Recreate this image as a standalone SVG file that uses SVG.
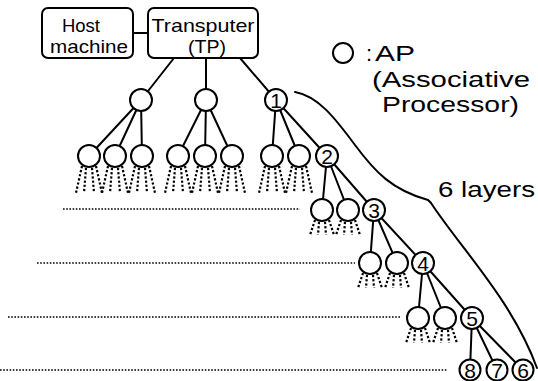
<svg xmlns="http://www.w3.org/2000/svg" xmlns:xlink="http://www.w3.org/1999/xlink" width="538" height="381" viewBox="0 0 538 381">
<style>
.ln{stroke:#000;stroke-width:2;fill:none;stroke-linecap:round}
.dot{stroke:#000;stroke-width:2.2;fill:none;stroke-dasharray:2.2 2}
.hd{stroke:#000;stroke-width:1.6;fill:none;stroke-dasharray:1.6 1.6}
.box{fill:#fff;stroke:#000;stroke-width:2}
.ap{fill:#fff;stroke:#000;stroke-width:2}
text{font-family:"Liberation Sans",Arial,Helvetica,sans-serif;fill:#000}
.bt{font-size:19px;text-anchor:middle}
.dg{font-size:21px;text-anchor:middle}
.lg{font-size:22px}
</style>
<defs>
<g id="legL">
<line class="dot" x1="-7" y1="10" x2="-13" y2="37"/>
<line class="dot" x1="-3" y1="12" x2="-5" y2="37"/>
<line class="dot" x1="3" y1="12" x2="5" y2="37"/>
<line class="dot" x1="7" y1="10" x2="13" y2="37"/>
</g>
<g id="legS">
<line class="dot" x1="-7" y1="10" x2="-12" y2="25"/>
<line class="dot" x1="-3" y1="12" x2="-4" y2="25"/>
<line class="dot" x1="3" y1="12" x2="4" y2="25"/>
<line class="dot" x1="7" y1="10" x2="12" y2="25"/>
</g>
</defs>

<g id="connectors">
<line class="ln" x1="133" y1="33" x2="148" y2="33"/>
<line class="ln" x1="174" y1="58" x2="141" y2="100"/>
<line class="ln" x1="206" y1="58" x2="206" y2="100"/>
<line class="ln" x1="240" y1="58" x2="276" y2="100"/>
<line class="ln" x1="141" y1="100" x2="89" y2="156"/>
<line class="ln" x1="141" y1="100" x2="115" y2="156"/>
<line class="ln" x1="141" y1="100" x2="142" y2="156"/>
<line class="ln" x1="206" y1="100" x2="178" y2="156"/>
<line class="ln" x1="206" y1="100" x2="205" y2="156"/>
<line class="ln" x1="206" y1="100" x2="232" y2="156"/>
<line class="ln" x1="276" y1="100" x2="272" y2="156"/>
<line class="ln" x1="276" y1="100" x2="299" y2="156"/>
<line class="ln" x1="276" y1="100" x2="327" y2="156"/>
<line class="ln" x1="327" y1="156" x2="322" y2="210"/>
<line class="ln" x1="327" y1="156" x2="348" y2="210"/>
<line class="ln" x1="327" y1="156" x2="374" y2="210"/>
<line class="ln" x1="374" y1="210" x2="370" y2="263"/>
<line class="ln" x1="374" y1="210" x2="397" y2="263"/>
<line class="ln" x1="374" y1="210" x2="423" y2="263"/>
<line class="ln" x1="423" y1="263" x2="418" y2="318"/>
<line class="ln" x1="423" y1="263" x2="445" y2="318"/>
<line class="ln" x1="423" y1="263" x2="472" y2="318"/>
<line class="ln" x1="472" y1="318" x2="470" y2="370"/>
<line class="ln" x1="472" y1="318" x2="497" y2="370"/>
<line class="ln" x1="472" y1="318" x2="523" y2="370"/>
<use xlink:href="#legL" x="89" y="156"/>
<use xlink:href="#legL" x="115" y="156"/>
<use xlink:href="#legL" x="142" y="156"/>
<use xlink:href="#legL" x="178" y="156"/>
<use xlink:href="#legL" x="205" y="156"/>
<use xlink:href="#legL" x="232" y="156"/>
<use xlink:href="#legL" x="272" y="156"/>
<use xlink:href="#legL" x="299" y="156"/>
<use xlink:href="#legS" x="322" y="210"/>
<use xlink:href="#legS" x="348" y="210"/>
<use xlink:href="#legS" x="370" y="263"/>
<use xlink:href="#legS" x="397" y="263"/>
<use xlink:href="#legS" x="418" y="318"/>
<use xlink:href="#legS" x="445" y="318"/>
<line class="hd" x1="63" y1="209" x2="300" y2="209"/>
<line class="hd" x1="37" y1="263" x2="355" y2="263"/>
<line class="hd" x1="8" y1="317" x2="400" y2="317"/>
<line class="hd" x1="0" y1="370" x2="448" y2="370"/>
<path class="ln" d="M295 92 C318 96 335 118 355 145 C375 172 392 190 428 200 L431 203 C462 250 512 300 537 368"/>
</g>

<g id="host">
<rect class="box" x="42" y="8" width="91" height="50" rx="6"/>
<text class="bt" x="81" y="32" textLength="38" lengthAdjust="spacingAndGlyphs">Host</text>
<text class="bt" x="89" y="53" textLength="78" lengthAdjust="spacingAndGlyphs">machine</text>
</g>
<g id="transputer">
<rect class="box" x="148" y="8" width="110" height="50" rx="6"/>
<text class="bt" x="203" y="32" textLength="103" lengthAdjust="spacingAndGlyphs">Transputer</text>
<text class="bt" x="207" y="53" textLength="38" lengthAdjust="spacingAndGlyphs">(TP)</text>
</g>

<g id="level1">
<circle class="ap" cx="141" cy="100" r="11"/>
<circle class="ap" cx="206" cy="100" r="11"/>
<g id="ap1"><circle class="ap" cx="276" cy="100" r="11"/><text class="dg" x="276" y="107.5">1</text></g>
</g>
<g id="level2">
<circle class="ap" cx="89" cy="156" r="11"/>
<circle class="ap" cx="115" cy="156" r="11"/>
<circle class="ap" cx="142" cy="156" r="11"/>
<circle class="ap" cx="178" cy="156" r="11"/>
<circle class="ap" cx="205" cy="156" r="11"/>
<circle class="ap" cx="232" cy="156" r="11"/>
<circle class="ap" cx="272" cy="156" r="11"/>
<circle class="ap" cx="299" cy="156" r="11"/>
<g id="ap2"><circle class="ap" cx="327" cy="156" r="11"/><text class="dg" x="327" y="163.5">2</text></g>
</g>
<g id="level3">
<circle class="ap" cx="322" cy="210" r="11"/>
<circle class="ap" cx="348" cy="210" r="11"/>
<g id="ap3"><circle class="ap" cx="374" cy="210" r="11"/><text class="dg" x="374" y="217.5">3</text></g>
</g>
<g id="level4">
<circle class="ap" cx="370" cy="263" r="11"/>
<circle class="ap" cx="397" cy="263" r="11"/>
<g id="ap4"><circle class="ap" cx="423" cy="263" r="11"/><text class="dg" x="423" y="270.5">4</text></g>
</g>
<g id="level5">
<circle class="ap" cx="418" cy="318" r="11"/>
<circle class="ap" cx="445" cy="318" r="11"/>
<g id="ap5"><circle class="ap" cx="472" cy="318" r="11"/><text class="dg" x="472" y="325.5">5</text></g>
</g>
<g id="level6">
<g id="ap8"><circle class="ap" cx="470" cy="370" r="10.5"/><text class="dg" x="470" y="377.5">8</text></g>
<g id="ap7"><circle class="ap" cx="497" cy="370" r="10.5"/><text class="dg" x="497" y="377.5">7</text></g>
<g id="ap6"><circle class="ap" cx="523" cy="370" r="10.5"/><text class="dg" x="523" y="377.5">6</text></g>
</g>

<g id="legend">
<circle class="ap" cx="343" cy="53" r="10"/>
<text class="lg" x="366" y="61">:</text>
<text class="lg" x="375" y="61" textLength="40" lengthAdjust="spacingAndGlyphs">AP</text>
<text class="lg" x="372" y="86.5" textLength="158" lengthAdjust="spacingAndGlyphs">(Associative</text>
<text class="lg" x="382" y="112" textLength="137" lengthAdjust="spacingAndGlyphs">Processor)</text>
</g>
<g id="layers">
<text class="lg" x="438" y="197" font-size="24" textLength="97" lengthAdjust="spacingAndGlyphs">6 layers</text>
</g>
</svg>
